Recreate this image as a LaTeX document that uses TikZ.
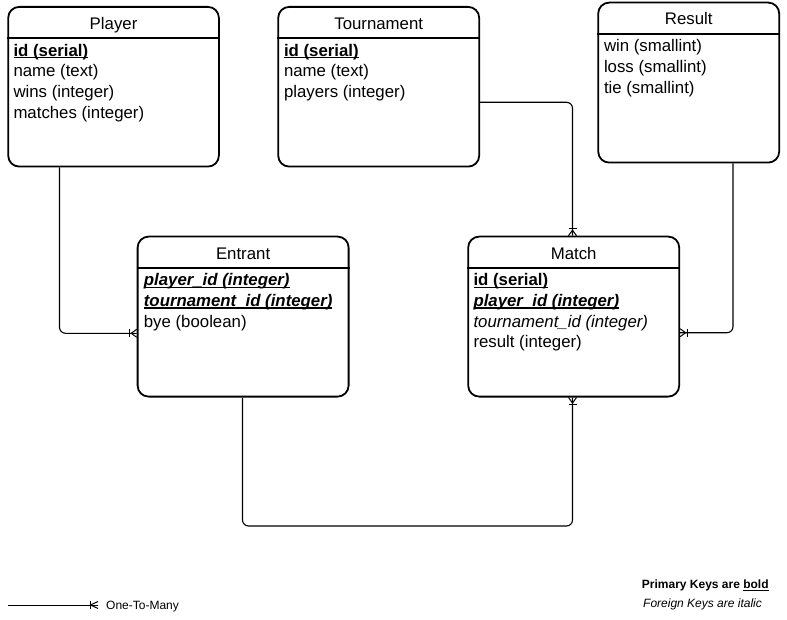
\documentclass[tikz,border=0pt]{standalone}
\usepackage{fontspec}
\setmainfont{Liberation Sans}
\usetikzlibrary{decorations.markings}
\newsavebox\ulbox
\newcommand\pkul[1]{\sbox\ulbox{#1}\rlap{\rule[-2.3pt]{\wd\ulbox}{1.1pt}}\usebox\ulbox}
\begin{document}
\begin{tikzpicture}[x=1pt,y=-1pt,line join=round,
  tbl/.style={draw, line width=1.8pt, rounded corners=11pt, inner sep=0pt, anchor=north west},
  hdrline/.style={line width=1.8pt},
  hdtxt/.style={anchor=base, inner sep=0pt, font=\fontsize{16.8}{20.8}\selectfont},
  body/.style={anchor=north west, inner sep=0pt, align=left, font=\fontsize{16.8}{20.8}\selectfont},
  conn/.style={line width=1.1pt, rounded corners=6pt},
  crowend/.style={postaction={decorate, decoration={markings, mark=at position 1 with {
      \draw[line width=1pt, sharp corners] (-7pt,-4pt) -- (-7pt,4pt);
      \draw[line width=1pt, sharp corners, line join=miter] (0pt,-4pt) -- (-5.5pt,0pt) -- (0pt,4pt);}}}},
  bigcrow/.style={postaction={decorate, decoration={markings, mark=at position 1 with {
      \draw[line width=1pt, sharp corners] (-8pt,-4pt) -- (-8pt,4pt);
      \draw[line width=1pt, sharp corners, line join=miter] (0pt,-3.5pt) -- (-7.5pt,0pt) -- (0pt,3.5pt);}}}},
  legend/.style={anchor=base west, inner sep=0pt, font=\fontsize{12}{14}\selectfont}
]
\useasboundingbox (0,0) rectangle (787,620);

% tables
\node[tbl, minimum width=210.7pt, minimum height=159.7pt] (player) at (7.3,6) {};
\node[tbl, minimum width=201pt, minimum height=159.7pt] (tournament) at (277.3,6) {};
\node[tbl, minimum width=181pt, minimum height=160pt] (result) at (597.3,1.7) {};
\node[tbl, minimum width=211pt, minimum height=160pt] (entrant) at (136.7,235.7) {};
\node[tbl, minimum width=211pt, minimum height=160pt] (match) at (467.3,235.7) {};

\foreach \t in {player,tournament,result,entrant,match}{
  \draw[hdrline] ([yshift=-32pt]\t.north west) -- ([yshift=-32pt]\t.north east);
}

\node[hdtxt] (playerh) at ([yshift=-23.3pt]player.north) {Player};
\node[hdtxt] (tournamenth) at ([yshift=-23.3pt]tournament.north) {Tournament};
\node[hdtxt] (resulth) at ([yshift=-23.3pt]result.north) {Result};
\node[hdtxt] (entranth) at ([yshift=-23.6pt]entrant.north) {Entrant};
\node[hdtxt] (matchh) at ([yshift=-23.6pt]match.north) {Match};

\node[body] (playerb) at ([xshift=6pt,yshift=-35.3pt]player.north west)
  {\strut\pkul{\textbf{id (serial)}}\\name (text)\\wins (integer)\\matches (integer)};
\node[body] (tournamentb) at ([xshift=6.5pt,yshift=-35.3pt]tournament.north west)
  {\strut\pkul{\textbf{id (serial)}}\\name (text)\\players (integer)};
\node[body] (resultb) at ([xshift=6.5pt,yshift=-35.3pt]result.north west)
  {\strut win (smallint)\\loss (smallint)\\tie (smallint)};
\node[body] (entrantb) at ([xshift=7pt,yshift=-35pt]entrant.north west)
  {\strut\pkul{\textbf{\textit{player\_id (integer)}}}\\\pkul{\textbf{\textit{tournament\_id (integer)}}}\\bye (boolean)};
\node[body] (matchb) at ([xshift=6pt,yshift=-35pt]match.north west)
  {\strut\pkul{\textbf{id (serial)}}\\\pkul{\textbf{\textit{player\_id (integer)}}}\\\textit{tournament\_id (integer)}\\result (integer)};

% connectors
\coordinate (p1) at (59.5,333.3);
\coordinate (t1) at (572.5,102.3);
\coordinate (r1) at (733,332.7);
\coordinate (e1) at (242.5,526);
\coordinate (e2) at (572.5,526);
\draw[conn, crowend] (player.south -| p1) |- (entrant.west |- p1);
\draw[conn, crowend] (tournament.east |- t1) -| (match.north -| t1);
\draw[conn, crowend] (result.south -| r1) |- (match.east |- r1);
\draw[conn, crowend] (entrant.south -| e1) -- (e1) -- (e2) -- (match.south -| e2);

% legend
\coordinate (l1) at (8,605);
\coordinate (l2) at (98,605);
\draw[line width=1pt, bigcrow] (l1) -- (l2);
\node[legend] (lt) at (106,609) {One-To-Many};
\node[legend] (pk) at (641.7,588.5) {\textbf{Primary Keys are \pkul{bold}}};
\node[legend] (fk) at (643,607.5) {\textit{Foreign Keys are italic}};
\end{tikzpicture}
\end{document}
